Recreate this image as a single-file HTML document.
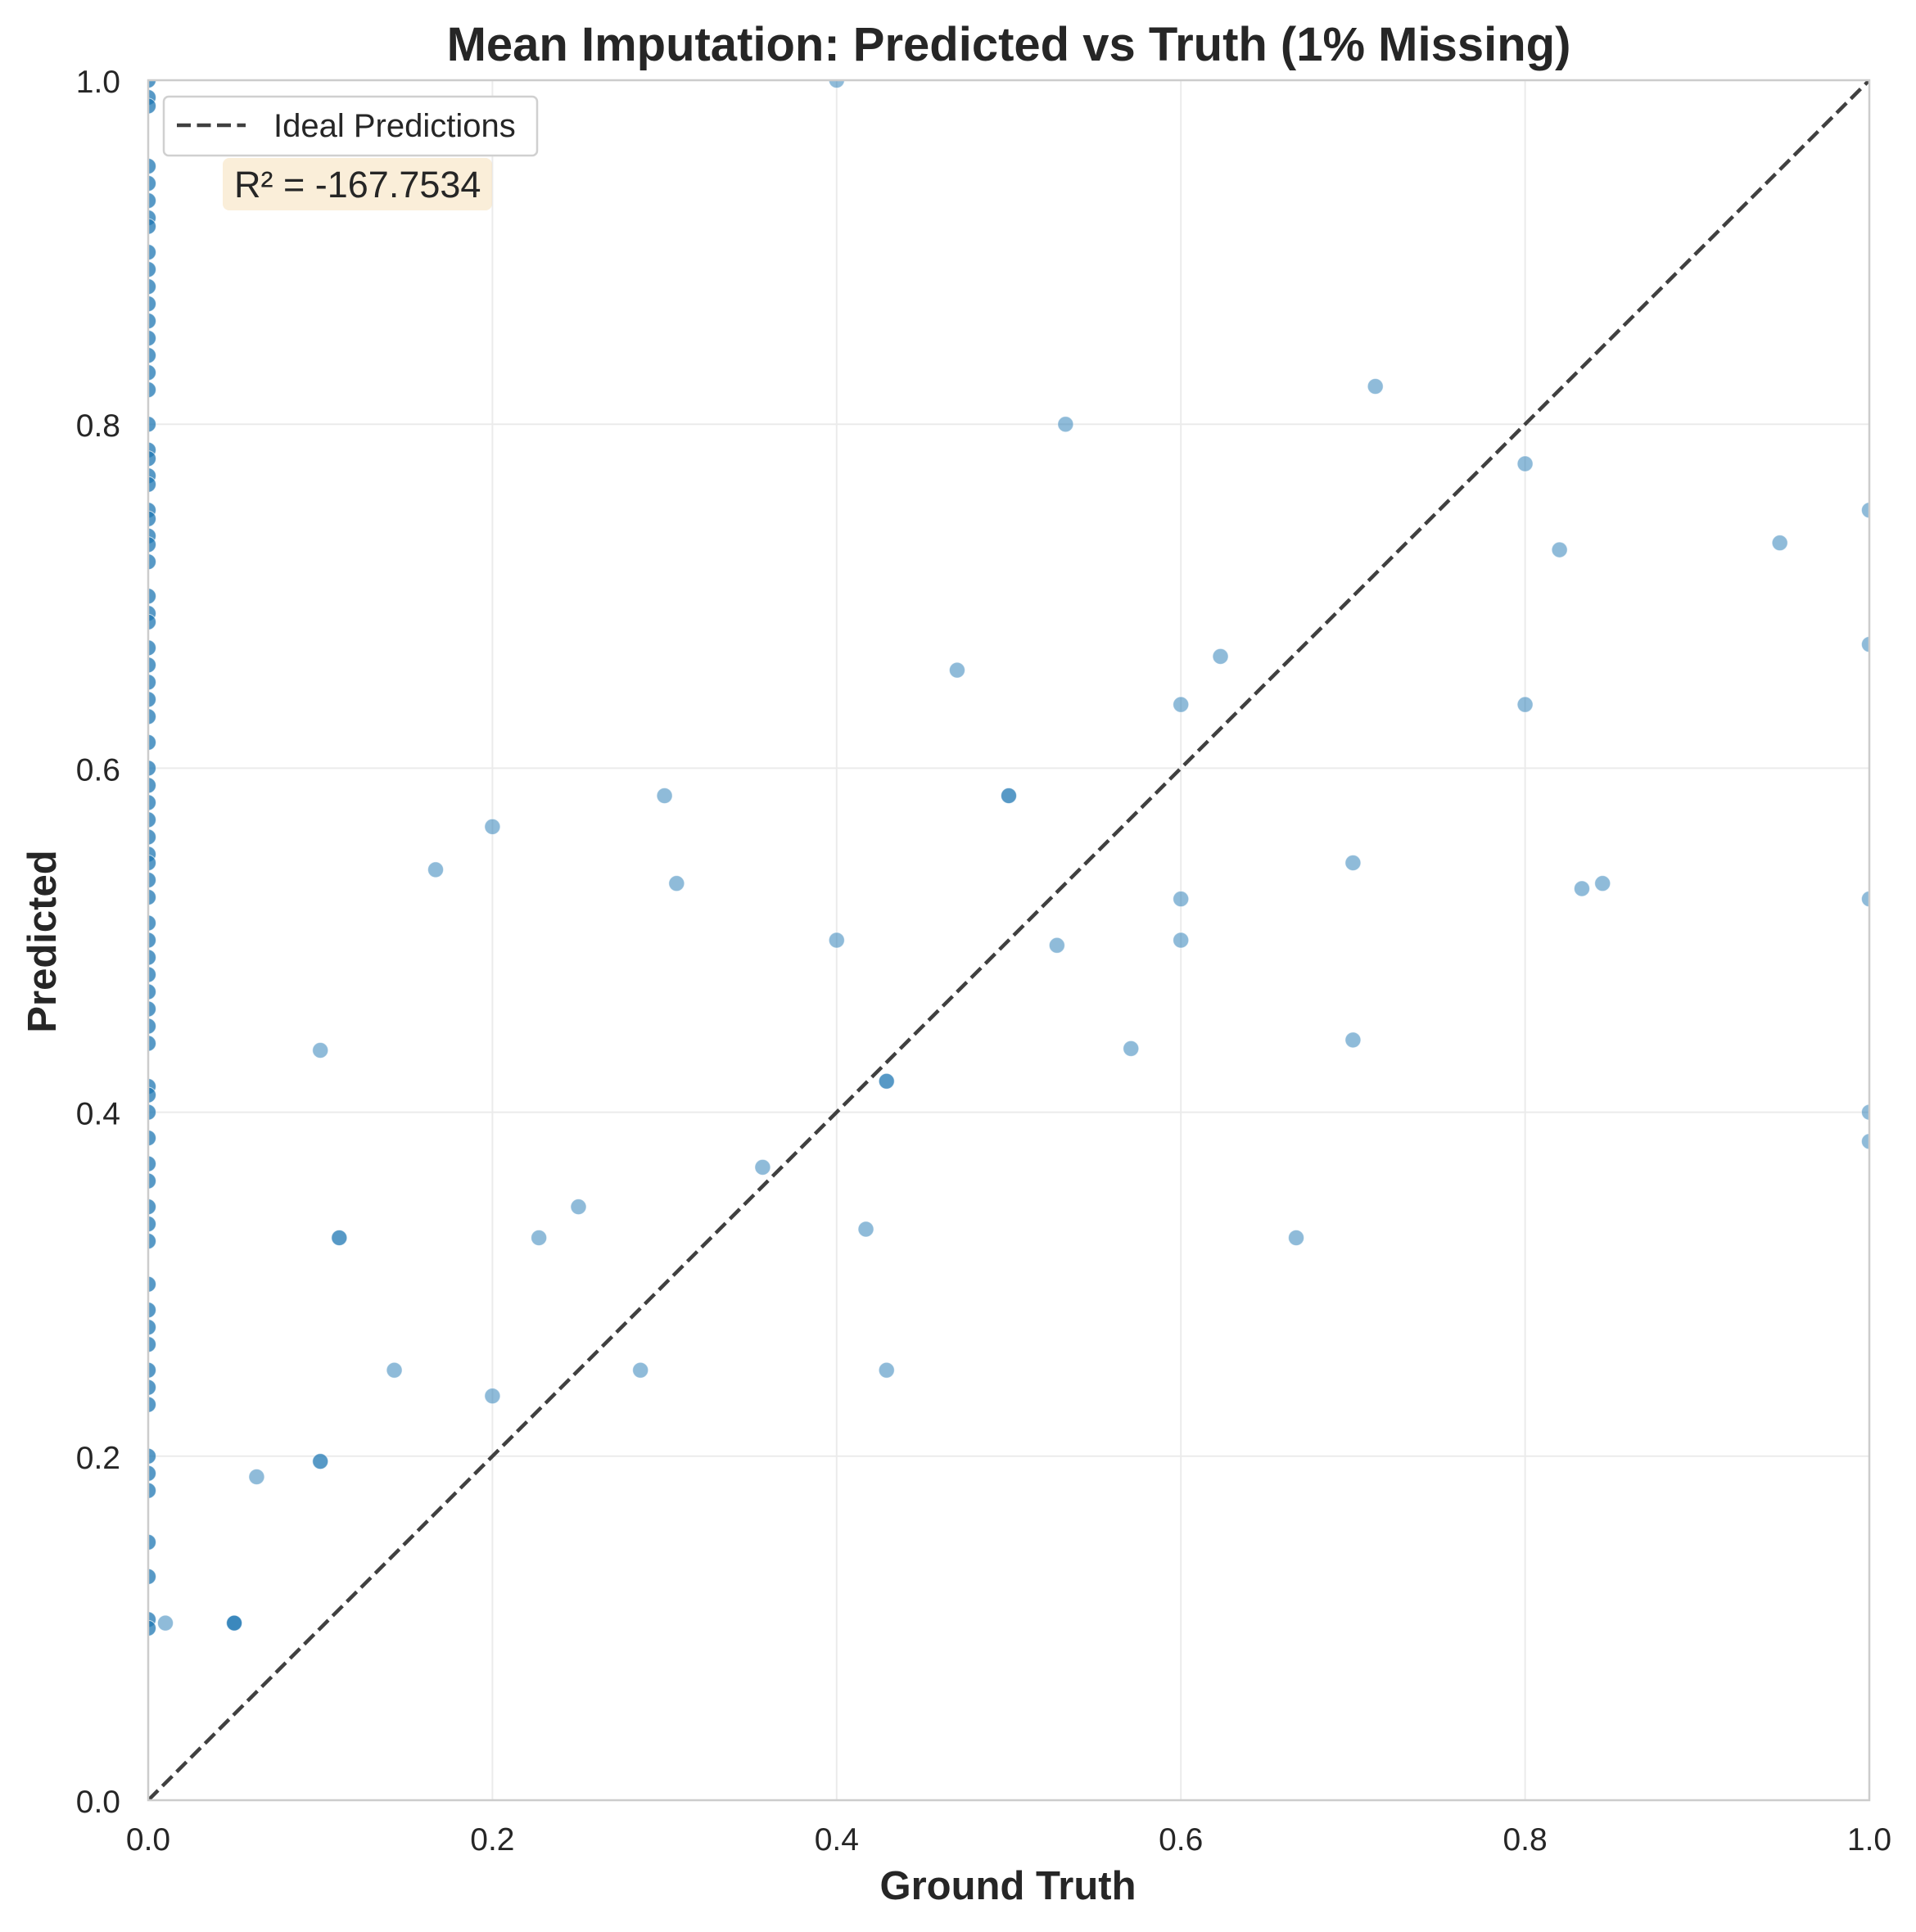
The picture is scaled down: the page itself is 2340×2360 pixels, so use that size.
<!DOCTYPE html>
<html><head><meta charset="utf-8"><style>
html,body{margin:0;padding:0;background:#fff}
svg{display:block;font-family:"Liberation Sans",Arial,sans-serif}
</style></head><body>
<svg id="chart" width="2340" height="2360" viewBox="0 0 2340 2360">
<defs><clipPath id="clip"><rect x="181" y="98" width="2102" height="2101"/></clipPath></defs>
<rect x="181" y="98" width="2102" height="2101" fill="#fff"/>
<g id="grid"></g>
<g id="points" clip-path="url(#clip)"></g>
<line id="ideal" stroke="#404040" stroke-width="4.5" stroke-dasharray="17,7.5" clip-path="url(#clip)"/>
<rect x="181" y="98" width="2102" height="2101" fill="none" stroke="#cccccc" stroke-width="2.5"/>
<g id="ticks"></g>
<text x="1232" y="74" text-anchor="middle" font-size="58" font-weight="bold" fill="#262626">Mean Imputation: Predicted vs Truth (1% Missing)</text>
<text x="1231" y="2320" text-anchor="middle" font-size="49" font-weight="bold" fill="#262626">Ground Truth</text>
<text x="0" y="0" transform="translate(68,1150) rotate(-90)" text-anchor="middle" font-size="49" font-weight="bold" fill="#262626">Predicted</text>
<g>
<rect x="200" y="118" width="456" height="72" rx="6" fill="#fff" stroke="#d0d0d0" stroke-width="2.5"/>
<line x1="216" y1="153" x2="300" y2="153" stroke="#404040" stroke-width="4.5" stroke-dasharray="17,7.5"/>
<text x="334" y="167" font-size="40" fill="#262626">Ideal Predictions</text>
</g>
<rect x="272" y="193" width="329" height="64" rx="8" fill="#f5deb3" fill-opacity="0.5"/>
<text x="286" y="241" font-size="45" fill="#262626">R² = -167.7534</text>
</svg>
<script>
const xTicks=[0,0.2,0.4,0.6,0.8,1.0];
const yTicks=[0,0.2,0.4,0.6,0.8,1.0];
const tickLabels=["0.0","0.2","0.4","0.6","0.8","1.0"];
const zeroColY=[1.0,0.99,0.985,0.95,0.94,0.93,0.92,0.915,0.9,0.89,0.88,0.87,0.86,0.85,0.84,0.83,0.82,0.8,0.785,0.78,0.77,0.765,0.75,0.745,0.735,0.73,0.72,0.7,0.69,0.685,0.67,0.66,0.65,0.64,0.63,0.615,0.6,0.59,0.58,0.57,0.56,0.55,0.545,0.535,0.525,0.51,0.5,0.49,0.48,0.47,0.46,0.45,0.44,0.415,0.41,0.4,0.385,0.37,0.36,0.345,0.335,0.325,0.3,0.285,0.275,0.265,0.25,0.24,0.23,0.2,0.19,0.18,0.15,0.13,0.105,0.1];
const truthX=[0.4,0.713,0.533,0.8,1.0,0.948,0.82,0.623,0.47,0.6,0.8,1.0,0.3,0.5,0.5,0.2,0.167,0.307,0.7,0.833,0.845,0.6,1.0,0.4,0.6,0.528,0.1,0.571,0.7,0.429,0.429,1.0,1.0,0.357,0.25,0.417,0.111,0.111,0.227,0.667,0.143,0.286,0.429,0.2,0.1,0.1,0.063,0.05,0.05,0.05,0.01];
const predY=[1.0,0.822,0.8,0.777,0.75,0.731,0.727,0.665,0.657,0.637,0.637,0.672,0.584,0.584,0.584,0.566,0.541,0.533,0.545,0.53,0.533,0.524,0.524,0.5,0.5,0.497,0.436,0.437,0.442,0.418,0.418,0.4,0.383,0.368,0.345,0.332,0.327,0.327,0.327,0.327,0.25,0.25,0.25,0.235,0.197,0.197,0.188,0.103,0.103,0.103,0.103];
const L=181,T=98,W=2102,H=2101;
const sx=v=>L+v*W, sy=v=>T+H-v*H;
const NS="http://www.w3.org/2000/svg";
const grid=document.getElementById('grid'),ticks=document.getElementById('ticks'),pts=document.getElementById('points');
function mk(t,a){const e=document.createElementNS(NS,t);for(const k in a)e.setAttribute(k,a[k]);return e;}
xTicks.forEach((v,i)=>{
 const g=mk('line',{x1:sx(v),x2:sx(v),y1:T,y2:T+H,stroke:'#ebebeb','stroke-width':2});
 
 
 grid.appendChild(g);
 const t=mk('text',{x:sx(v),y:2260,'text-anchor':'middle','font-size':39,fill:'#262626'});
 t.textContent=tickLabels[i];
 
 
 ticks.appendChild(t);
});
yTicks.forEach((v,i)=>{
 const g=mk('line',{x1:L,x2:L+W,y1:sy(v),y2:sy(v),stroke:'#ebebeb','stroke-width':2});
 
 
 grid.appendChild(g);
 const t=mk('text',{x:147,y:sy(v)+15,'text-anchor':'end','font-size':39,fill:'#262626'});
 t.textContent=tickLabels[i];
 
 
 ticks.appendChild(t);
});
function dot(x,y){
 const c=mk('circle',{cx:sx(x),cy:sy(y),r:9.5,fill:'#1f77b4','fill-opacity':0.5,stroke:'#fff','stroke-width':1,'stroke-opacity':0.5});
 
 
 pts.appendChild(c);
}
zeroColY.forEach(y=>{dot(0,y);dot(0,y);});
truthX.forEach((x,i)=>dot(x,predY[i]));
const id=document.getElementById('ideal');
id.setAttribute('x1',sx(0));id.setAttribute('y1',sy(0));id.setAttribute('x2',sx(1));id.setAttribute('y2',sy(1));
</script>
</body></html>
